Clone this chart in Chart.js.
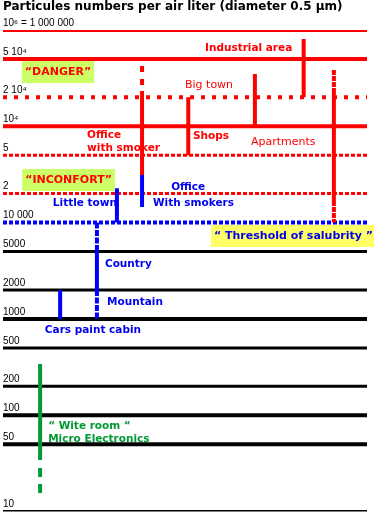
<!DOCTYPE html>
<html>
<head>
<meta charset="utf-8">
<script src="https://cdn.jsdelivr.net/npm/chart.js@4.4.1/dist/chart.umd.min.js"></script>
<style>
  html, body { margin: 0; padding: 0; background: #fff; overflow: hidden; }
  canvas { display: block; }
</style>
</head>
<body>
<canvas id="chart" width="374" height="513"></canvas>
<script>
// particle levels (per air liter), each one is a horizontal rule
const levelValues = [1e6, 5e5, 2e5, 1e5, 5e4, 2e4, 1e4, 5000, 2000, 1000, 500, 200, 100, 50, 10];
const levelLabels = ['10⁶ = 1 000 000', '5 10⁴', '2 10⁴', '10⁴', '5', '2', '10 000',
  '5000', '2000', '1000', '500', '200', '100', '50', '10'];
const levelKinds = ['red', 'red', 'redDot', 'red', 'redDash', 'redDash', 'blueDash',
  'black', 'black', 'blackBold', 'black', 'black', 'blackBold', 'blackBold', 'black'];

// places: position across the chart and the range of particle counts
const segX = [38.2, 38.2, 38.2, 50.9, 69.2, 82.6, 90.9, 90.9, 90.9, 31.3, 25.8, 25.8, 25.8, 15.7, 10.2, 10.2];
const segFrom = [4.23e5, 2.33e5, 3.12e4, 2e5, 3.49e5, 8.07e5, 3.85e5, 2.33e5, 1.68e4, 2.28e4, 1e4, 5000, 2000, 2000, 341, 28.3];
const segTo = [2.33e5, 3.12e4, 1.45e4, 5e4, 1e5, 2e5, 2.33e5, 1.68e4, 1e4, 1e4, 5000, 2000, 1000, 1000, 34.3, 15.6];
const segKinds = ['redGap', 'redV', 'blueV', 'redV', 'redV', 'redV', 'redTick', 'redV', 'redTick',
  'blueV', 'blueTick', 'blueV', 'blueTick', 'blueV', 'greenV', 'greenGap'];

const styles = {
  red: { color: '#ff0000', width: 4, dash: [] },
  redDot: { color: '#ff0000', width: 4, dash: [4, 7] },
  redDash: { color: '#ff0000', width: 3, dash: [4, 2] },
  blueDash: { color: '#0000ff', width: 4, dash: [4, 2] },
  black: { color: '#000000', width: 3, dash: [] },
  blackBold: { color: '#000000', width: 4, dash: [] },
  redV: { color: '#ff0000', width: 4, dash: [] },
  redGap: { color: '#ff0000', width: 4, dash: [6, 7] },
  redTick: { color: '#ff0000', width: 4, dash: [5, 1] },
  blueV: { color: '#0000ff', width: 4, dash: [] },
  blueTick: { color: '#0000ff', width: 4, dash: [6, 1.5] },
  greenV: { color: '#009933', width: 4, dash: [] },
  greenGap: { color: '#009933', width: 4, dash: [9, 7] },
};

const RED = '#ff0000';
const BLUE = '#0000ee';
const GREEN = '#009933';
const BOLD = 'bold 10.5px "DejaVu Sans"';
const PLAIN = '11px "DejaVu Sans"';
const BOXFONT = 'bold 11px "DejaVu Sans"';

// labels anchored on the data axes (x in %, y in particles)
const notes = [
  { text: 'Industrial area', x: 55.5, y: 6.5e5, color: RED, font: BOLD },
  { text: 'Big town', x: 50.0, y: 2.66e5, color: RED, font: PLAIN },
  { text: 'Office', x: 23.1, y: 8.1e4, color: RED, font: BOLD },
  { text: 'with smoker', x: 23.1, y: 5.96e4, color: RED, font: BOLD },
  { text: 'Shops', x: 52.2, y: 7.9e4, color: RED, font: BOLD },
  { text: 'Apartments', x: 68.1, y: 6.8e4, color: RED, font: PLAIN },
  { text: 'Office', x: 46.2, y: 2.34e4, color: BLUE, font: BOLD },
  { text: 'Little town', x: 13.7, y: 1.6e4, color: BLUE, font: BOLD },
  { text: 'With smokers', x: 41.2, y: 1.6e4, color: BLUE, font: BOLD },
  { text: 'Country', x: 28.0, y: 3.72e3, color: BLUE, font: BOLD },
  { text: 'Mountain', x: 28.6, y: 1.5e3, color: BLUE, font: BOLD },
  { text: 'Cars paint cabin', x: 11.5, y: 767, color: BLUE, font: BOLD },
  { text: '“ Wite room “', x: 12.4, y: 77.3, color: GREEN, font: BOLD },
  { text: 'Micro Electronics', x: 12.4, y: 56.6, color: GREEN, font: BOLD },
];

const boxes = [
  { text: '“DANGER”', x: 15.1, y: 3.66e5, color: RED, fill: '#ccff66' },
  { text: '“INCONFORT”', x: 18.0, y: 2.77e4, color: RED, fill: '#ccff66' },
  { text: '“ Threshold of salubrity ”', x: 79.8, y: 7.26e3, color: BLUE, fill: '#ffff66' },
];

const lineSet = (points, kind, order) => ({
  data: points,
  showLine: true,
  borderColor: styles[kind].color,
  borderWidth: styles[kind].width,
  borderDash: styles[kind].dash,
  borderCapStyle: 'butt',
  pointRadius: 0,
  fill: false,
  order,
});

const datasets = [];
segX.forEach((x, i) => {
  datasets.push(lineSet([{ x, y: segFrom[i] }, { x, y: segTo[i] }], segKinds[i], 1));
});
levelValues.forEach((v, i) => {
  datasets.push(lineSet([{ x: 0, y: v }, { x: 100, y: v }], levelKinds[i], 2));
});

const notesPlugin = {
  id: 'notes',
  afterDatasetsDraw(chart) {
    const { ctx, scales: { x, y } } = chart;
    ctx.save();
    ctx.textBaseline = 'middle';
    boxes.forEach(b => {
      ctx.font = BOXFONT;
      const w = ctx.measureText(b.text).width + 6;
      const cx = x.getPixelForValue(b.x);
      const cy = y.getPixelForValue(b.y);
      ctx.fillStyle = b.fill;
      ctx.fillRect(cx - w / 2, cy - 11, w, 22);
      ctx.fillStyle = b.color;
      ctx.textAlign = 'center';
      ctx.fillText(b.text, cx, cy);
    });
    ctx.textAlign = 'left';
    notes.forEach(n => {
      ctx.font = n.font;
      ctx.fillStyle = n.color;
      ctx.fillText(n.text, x.getPixelForValue(n.x), y.getPixelForValue(n.y));
    });
    ctx.restore();
  },
};

new Chart(document.getElementById('chart'), {
  type: 'scatter',
  data: { datasets },
  options: {
    responsive: false,
    animation: false,
    devicePixelRatio: 1,
    layout: { autoPadding: false, padding: { left: 3, right: 7, top: 0, bottom: 1.5 } },
    plugins: {
      legend: { display: false },
      tooltip: { enabled: false },
      title: {
        display: true,
        text: 'Particules numbers per air liter (diameter 0.5 µm)',
        align: 'start',
        color: '#000',
        font: { family: 'DejaVu Sans', size: 12, weight: 'bold' },
        padding: { top: 0, bottom: 15.6 },
      },
    },
    scales: {
      x: { type: 'linear', min: 0, max: 100, display: false },
      y: {
        type: 'logarithmic',
        min: 10,
        max: 1e6,
        grid: { display: false, drawTicks: false },
        border: { display: false },
        afterBuildTicks: scale => { scale.ticks = levelValues.map(value => ({ value })); },
        // labels sit above their rules, so no extra room is needed at the ends
        afterFit: scale => {
          scale.paddingTop = 0;
          scale.paddingBottom = 0;
        },
        ticks: {
          mirror: true,
          padding: 0,
          labelOffset: -7,
          autoSkip: false,
          color: '#000',
          font: { family: 'Liberation Sans', size: 10 },
          callback: (value, index) => levelLabels[index],
        },
      },
    },
  },
  plugins: [notesPlugin],
});
</script>
</body>
</html>
